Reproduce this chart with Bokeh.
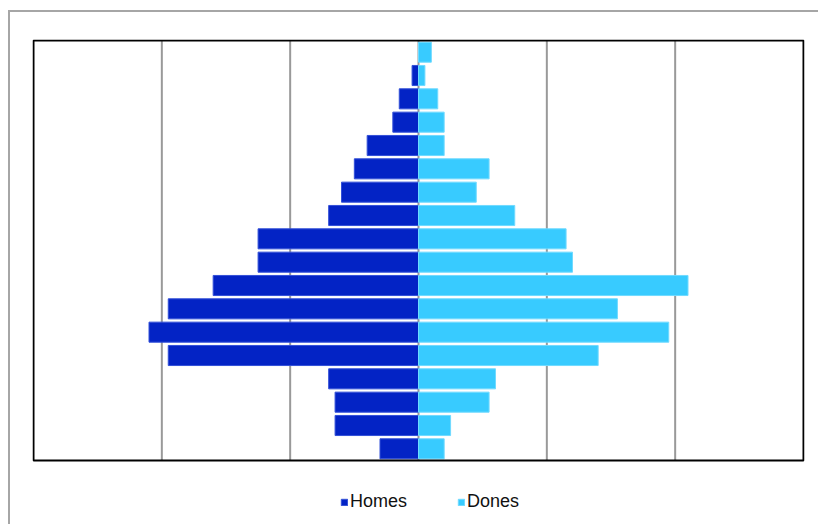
from jinja2 import Template
from bokeh.plotting import figure
from bokeh.models import ColumnDataSource, Range1d, Legend, LegendItem
from bokeh.embed import file_html
from bokeh.resources import INLINE

# Age groups, youngest first (bottom of the pyramid)
age_groups = ["0-4", "5-9", "10-14", "15-19", "20-24", "25-29", "30-34", "35-39",
              "40-44", "45-49", "50-54", "55-59", "60-64", "65-69", "70-74",
              "75-79", "80-84", "85+"]
homes = [6, 13, 13, 14, 39, 42, 39, 32, 25, 25, 14, 12, 10, 8, 4, 3, 1, 0]
dones = [4, 5, 11, 12, 28, 39, 31, 42, 24, 23, 15, 9, 11, 4, 4, 3, 1, 2]
grid_ticks = [-40, -20, 0, 20, 40]
x_min, x_max = -60, 60

n = len(age_groups)
pos = list(range(n))
src = ColumnDataSource(dict(
    y=pos,
    age=age_groups,
    homes_left=[-v for v in homes],
    dones_right=dones,
    zero=[0] * n,
))

# plot box spans y -0.5 .. n-0.5 (420 px); the frame also holds the legend strip below it
row_px = 420 / n
pad_x = 1 / (770 / (x_max - x_min))
p = figure(width=808, height=512, output_backend="svg", toolbar_location=None,
           x_range=Range1d(x_min - pad_x, x_max + pad_x),
           y_range=Range1d(-0.5 - 64 / row_px, n - 0.5 + 1 / row_px),
           min_border_left=22, min_border_right=14, min_border_top=27, min_border_bottom=0)

HOMES_C = "#0323C5"
DONES_C = "#38CBFF"

# vertical gridlines, limited to the plot box
p.segment(x0=grid_ticks, x1=grid_ticks, y0=[-0.5] * len(grid_ticks), y1=[n - 0.5] * len(grid_ticks),
          line_color="#999999", line_width=2)

r1 = p.hbar(y="y", left="homes_left", right="zero", height=0.86, source=src,
            fill_color=HOMES_C, line_color="#3350D8", line_width=1)
r2 = p.hbar(y="y", left="zero", right="dones_right", height=0.86, source=src,
            fill_color=DONES_C, line_color="#70DAFF", line_width=1)

# plot box outline
p.quad(left=[x_min], right=[x_max], bottom=[-0.5], top=[n - 0.5],
       fill_alpha=0, line_color="black", line_width=2)

p.xaxis.visible = False
p.yaxis.visible = False
p.xgrid.visible = False
p.ygrid.visible = False
p.outline_line_color = None
p.background_fill_color = "white"
p.border_fill_color = "white"

legend = Legend(items=[LegendItem(label="Homes", renderers=[r1]),
                       LegendItem(label="Dones", renderers=[r2])],
                orientation="horizontal", location=(308, 12),
                glyph_width=8, glyph_height=8, label_standoff=2, spacing=50,
                padding=0, margin=0, border_line_alpha=0, background_fill_alpha=0,
                label_text_font="Liberation Sans", label_text_font_size="18px",
                label_text_color="#111111", label_height=20)
p.add_layout(legend, "center")

page = Template("""<!DOCTYPE html>
<html lang="ca">
<head>
<meta charset="utf-8">
<title>{{ title }}</title>
<style>html, body { box-sizing: border-box; margin: 0; padding: 0; background: white; }</style>
{{ bokeh_css }}
{{ bokeh_js }}
</head>
<body>
<div style="margin-left:8px; margin-top:10px; border-left:2px solid #a6a6a6; border-top:2px solid #a6a6a6; width:808px; height:512px;">
{{ plot_div }}
</div>
{{ plot_script }}
</body>
</html>""")

open("out.html", "w").write(file_html(p, INLINE, title="Piràmide", template=page))
